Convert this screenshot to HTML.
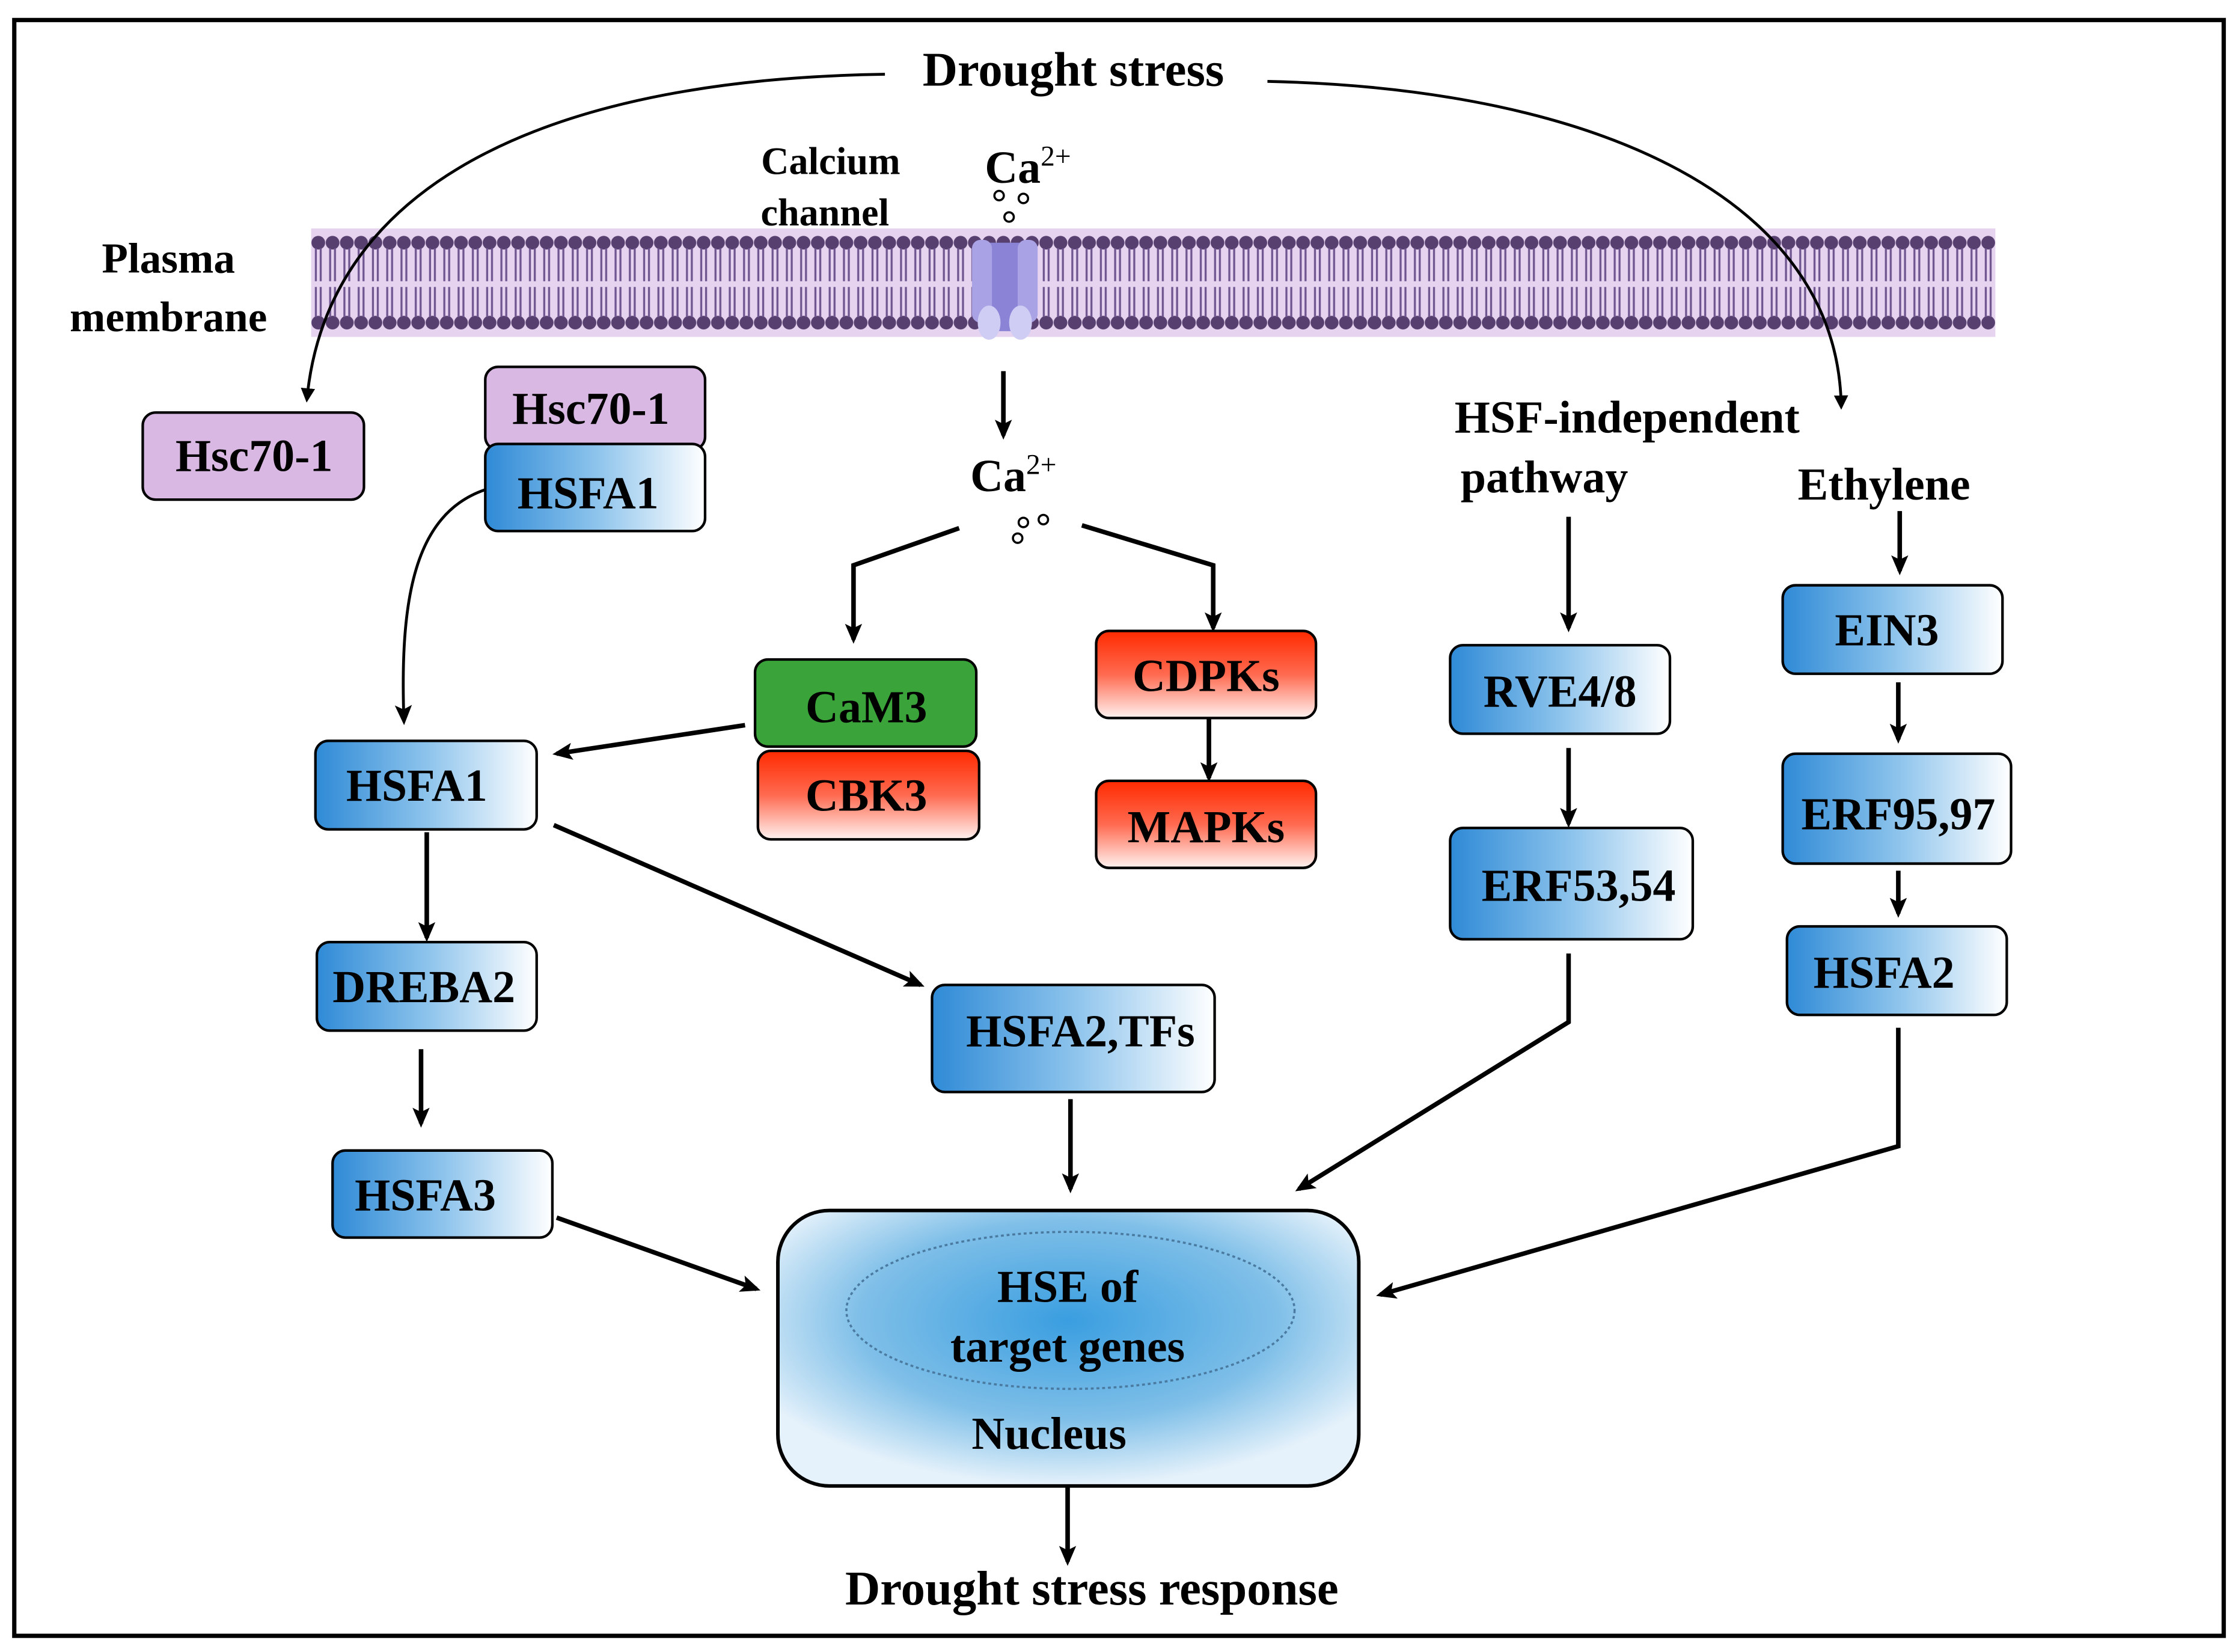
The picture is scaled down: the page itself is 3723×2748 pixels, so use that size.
<!DOCTYPE html>
<html><head><meta charset="utf-8"><style>html,body{margin:0;padding:0;background:#fff}svg{display:block}</style></head>
<body>
<svg width="3723" height="2748" viewBox="0 0 1568 1157.3" xmlns="http://www.w3.org/2000/svg" font-family="'Liberation Serif',serif" font-weight="bold">
<defs>
<linearGradient id="bl" x1="0" x2="1" y1="0" y2="0"><stop offset="0" stop-color="#2f8ad6"/><stop offset="0.5" stop-color="#8cc3ec"/><stop offset="1" stop-color="#fff"/></linearGradient>
<linearGradient id="rd" x1="0" x2="0" y1="0" y2="1"><stop offset="0" stop-color="#ff2a00"/><stop offset="0.5" stop-color="#ff6a50"/><stop offset="1" stop-color="#fff2f0"/></linearGradient>
<radialGradient id="nu" cx="0.5" cy="0.4" r="0.6"><stop offset="0" stop-color="#3a9ee0"/><stop offset="0.6" stop-color="#7fbfe8"/><stop offset="1" stop-color="#e6f2fb"/></radialGradient>
<pattern id="mem" width="10" height="80" patternUnits="userSpaceOnUse" x="218" y="160">
<rect width="10" height="80" fill="#e6d3ef"/>
<circle cx="5" cy="10" r="4.8" fill="#574070"/><circle cx="5" cy="66" r="4.8" fill="#574070"/>
<path d="M3.3 14 V37 M6.7 14 V37 M3.3 41 V62 M6.7 41 V62" stroke="#6f5690" stroke-width="1.4"/>
</pattern>
<marker id="ah" markerWidth="10" markerHeight="10" refX="8" refY="5" orient="auto" markerUnits="userSpaceOnUse" viewBox="0 0 10 10"><path d="M0,0 L10,5 L0,10 Z" fill="#000"/></marker>
<marker id="ahs" markerWidth="14" markerHeight="14" refX="11" refY="7" orient="auto" markerUnits="userSpaceOnUse" viewBox="0 0 14 14"><path d="M0,1 L14,7 L0,13 L3,7 Z" fill="#000"/></marker>
</defs>
<rect x="10" y="14" width="1548" height="1132" fill="#fff" stroke="#000" stroke-width="3"/>
<rect x="218" y="160" width="1180" height="76" fill="url(#mem)"/>
<path d="M682,178 Q684,170 692,170 L716,170 Q724,170 726,178 L722,232 L686,232 Z" fill="#8b83d6"/>
<rect x="681" y="168" width="14" height="58" rx="6" fill="#a9a3e6"/>
<rect x="713" y="168" width="14" height="58" rx="6" fill="#a9a3e6"/>
<ellipse cx="693" cy="226" rx="8" ry="12" fill="#cfcdf4"/><ellipse cx="715" cy="226" rx="8" ry="12" fill="#cfcdf4"/>
<text x="752" y="60" font-size="34" text-anchor="middle">Drought stress</text>
<path d="M620,52 C400,55 230,120 215,280" fill="none" stroke="#000" stroke-width="2" marker-end="url(#ah)"/>
<path d="M888,57 C1120,62 1288,140 1290,285" fill="none" stroke="#000" stroke-width="2" marker-end="url(#ah)"/>
<text x="582" y="122" font-size="27" text-anchor="middle">Calcium</text>
<text x="578" y="158" font-size="27" text-anchor="middle">channel</text>
<text x="690" y="128" font-size="32">Ca<tspan font-size="20" dy="-12" font-weight="normal">2+</tspan></text>
<g fill="none" stroke="#000" stroke-width="1.5"><circle cx="700" cy="137" r="3.3"/><circle cx="717" cy="139" r="3.3"/><circle cx="707" cy="152" r="3.3"/>
<circle cx="717" cy="366" r="3.3"/><circle cx="731" cy="364" r="3.3"/><circle cx="713" cy="377" r="3.3"/></g>
<text x="118" y="191" font-size="30" text-anchor="middle">Plasma</text>
<text x="118" y="232" font-size="30" text-anchor="middle">membrane</text>
<g stroke="#000" stroke-width="1.8">
<rect x="100" y="289" width="155" height="61" rx="9" fill="#d9b8e3"/>
<rect x="340" y="257" width="154" height="58" rx="9" fill="#d9b8e3"/>
<rect x="340" y="311" width="154" height="61" rx="9" fill="url(#bl)"/>
<rect x="221" y="519" width="155" height="62" rx="9" fill="url(#bl)"/>
<rect x="529" y="462" width="155" height="61" rx="9" fill="#3aa43a"/>
<rect x="531" y="526" width="155" height="62" rx="9" fill="url(#rd)"/>
<rect x="768" y="442" width="154" height="61" rx="9" fill="url(#rd)"/>
<rect x="768" y="547" width="154" height="61" rx="9" fill="url(#rd)"/>
<rect x="222" y="660" width="154" height="62" rx="9" fill="url(#bl)"/>
<rect x="233" y="806" width="154" height="61" rx="9" fill="url(#bl)"/>
<rect x="653" y="690" width="198" height="75" rx="9" fill="url(#bl)"/>
<rect x="1016" y="452" width="154" height="62" rx="9" fill="url(#bl)"/>
<rect x="1016" y="580" width="170" height="78" rx="9" fill="url(#bl)"/>
<rect x="1249" y="410" width="154" height="62" rx="9" fill="url(#bl)"/>
<rect x="1249" y="528" width="160" height="77" rx="9" fill="url(#bl)"/>
<rect x="1252" y="649" width="154" height="62" rx="9" fill="url(#bl)"/>
<rect x="545" y="848" width="407" height="193" rx="36" fill="url(#nu)" stroke-width="2.5"/>
</g>
<ellipse cx="750" cy="918" rx="157" ry="55" fill="none" stroke="#4a7aa0" stroke-width="1.5" stroke-dasharray="2,2"/>
<g font-size="32" text-anchor="middle">
<text x="178" y="330">Hsc70-1</text>
<text x="414" y="297">Hsc70-1</text>
<text x="412" y="356">HSFA1</text>
<text x="292" y="561">HSFA1</text>
<text x="607" y="506">CaM3</text>
<text x="607" y="568">CBK3</text>
<text x="845" y="484">CDPKs</text>
<text x="845" y="590">MAPKs</text>
<text x="297" y="702">DREBA2</text>
<text x="298" y="848">HSFA3</text>
<text x="757" y="733">HSFA2,TFs</text>
<text x="1093" y="495">RVE4/8</text>
<text x="1106" y="631">ERF53,54</text>
<text x="1322" y="452">EIN3</text>
<text x="1330" y="581">ERF95,97</text>
<text x="1320" y="692">HSFA2</text>
<text x="748" y="912">HSE of</text>
<text x="748" y="954">target genes</text>
<text x="735" y="1015">Nucleus</text>
<text x="1140" y="303">HSF-independent</text>
<text x="1082" y="345">pathway</text>
<text x="1320" y="350">Ethylene</text>
<text x="765" y="1124" font-size="34">Drought stress response</text>
<text x="710" y="344">Ca<tspan font-size="20" dy="-12" font-weight="normal">2+</tspan></text>
</g>
<g fill="none" stroke="#000" stroke-width="3.2" marker-end="url(#ahs)">
<path d="M703,260 V305"/>
<path d="M672,370 L598,396 V448"/>
<path d="M758,368 L850,396 V440"/>
<path d="M847,503 V545"/>
<path d="M522,508 L390,528"/>
<path d="M340,343 C290,360 280,420 283,505" stroke-width="2"/>
<path d="M299,583 V657"/>
<path d="M295,735 V787"/>
<path d="M388,578 L645,690"/>
<path d="M750,770 V833"/>
<path d="M390,853 L530,903"/>
<path d="M748,1042 V1094"/>
<path d="M1099,362 V440"/>
<path d="M1099,524 V577"/>
<path d="M1099,668 V716 L910,833"/>
<path d="M1331,358 V400"/>
<path d="M1330,478 V518"/>
<path d="M1330,610 V640"/>
<path d="M1330,720 V803 L967,907"/>
</g>
</svg>
</body></html>
